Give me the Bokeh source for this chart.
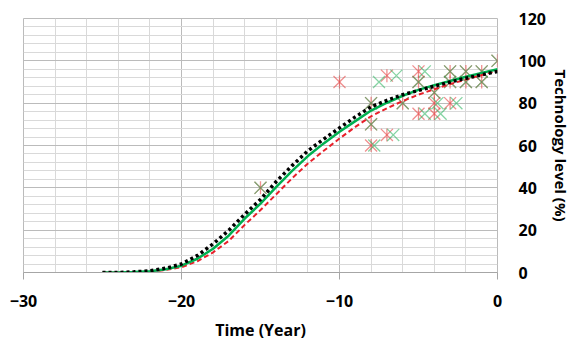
import math
from bokeh.plotting import figure
from bokeh.models import FixedTicker, Range1d, Title
from bokeh.embed import file_html
from bokeh.resources import INLINE

# ---- data ----
years = [-25, -24, -23, -22, -21, -20, -19, -18, -17, -16, -15, -14, -13,
         -12, -11, -10, -9, -8, -7, -6, -5, -4, -3, -2, -1, 0]
black_vals = [0, 0, 0.3, 0.8, 2, 4, 8, 13.5, 20, 27.5, 34.5, 43, 50.5,
              57.5, 63, 68.3, 73.5, 78.3, 81.3, 84, 86, 88, 90, 91.8, 93.4, 95]
green_vals = [0, 0, 0.2, 0.6, 1.5, 3.2, 6.5, 11.2, 17.5, 25.5, 32.5, 40.5, 48,
              55, 61, 66.5, 71.5, 76.5, 80.2, 83.5, 86.3, 88.5, 90.5, 92.5, 94.3, 96]
red_vals = [0, 0, 0.1, 0.4, 1.2, 2.5, 5.3, 9.5, 15, 22.5, 29.5, 37, 44.5,
            51.5, 57.5, 63.3, 68.8, 73.8, 77.6, 81, 84, 86.6, 89, 91.2, 93.3, 95.3]

red_x = [-15, -10, -8, -8, -8, -7, -7, -6, -5, -5, -5, -4, -4, -4,
         -3, -3, -3, -2, -2, -1, -1, 0]
red_y = [40, 90, 80, 70, 60, 93, 65, 80, 95, 90, 75, 85, 80, 75,
         95, 90, 80, 95, 90, 95, 90, 100]
green_x = [-15, -7.5, -8, -8, -7.8, -6.4, -6.6, -6, -4.6, -5, -4.6, -4, -3.8, -3.6,
           -3, -3, -2.6, -2, -2, -1, -1, 0]
green_y = [40, 90, 80, 70, 60, 93, 65, 80, 95, 90, 75, 85, 80, 75,
           95, 90, 80, 95, 90, 95, 90, 100]

x_major = [-30, -20, -10, 0]
x_minor = [-28, -26, -24, -22, -18, -16, -14, -12, -8, -6, -4, -2]
y_major = [0, 20, 40, 60, 80, 100, 120]
y_minor = [4, 8, 12, 16, 24, 28, 32, 36, 44, 48, 52, 56, 64, 68, 72, 76,
           84, 88, 92, 96, 104, 108, 112, 116]

FONT = "Open Sans"

p = figure(frame_width=474, frame_height=254, x_range=Range1d(-30, 0), y_range=Range1d(0, 120),
           output_backend="svg", toolbar_location=None, y_axis_location="right",
           min_border_left=23, min_border_right=74, min_border_top=18,
           min_border_bottom=60)
p.outline_line_color = "#BBBBBB"
p.background_fill_color = "white"
p.border_fill_color = "white"

p.xaxis.ticker = FixedTicker(ticks=x_major, minor_ticks=x_minor)
p.yaxis.ticker = FixedTicker(ticks=y_major, minor_ticks=y_minor)

p.xgrid.grid_line_color = "#BBBBBB"
p.xgrid.minor_grid_line_color = "#D9D9D9"
p.ygrid.grid_line_color = "#BBBBBB"
p.ygrid.minor_grid_line_color = "#D9D9D9"

p.xaxis.axis_line_color = "#A6A6A6"
p.xaxis.major_tick_line_color = "#A6A6A6"
p.xaxis.major_tick_out = 7
p.xaxis.major_tick_in = 0
p.xaxis.minor_tick_line_color = None
p.xaxis.major_label_standoff = 15

p.yaxis.axis_line_color = None
p.yaxis.major_tick_line_color = None
p.yaxis.minor_tick_line_color = None
p.yaxis.major_tick_out = 0
p.yaxis.major_tick_in = 0
p.yaxis.major_label_standoff = 17
p.yaxis.axis_label = "Technology level (%)"
p.yaxis.axis_label_standoff = 2
p.yaxis.axis_label_text_font = FONT
p.yaxis.axis_label_text_font_size = "15px"
p.yaxis.axis_label_text_font_style = "bold"
p.yaxis.axis_label_text_color = "black"

for ax in (p.xaxis, p.yaxis):
    ax.major_label_text_font = FONT
    ax.major_label_text_font_size = "16px"
    ax.major_label_text_font_style = "bold"
    ax.major_label_text_color = "black"

# scatter markers
p.scatter(red_x, red_y, marker="x", size=17, line_color="#E64646", line_alpha=0.6, line_width=1.3)
p.scatter(red_x, red_y, marker="dash", angle=math.pi / 2, size=13, line_color="#E64646",
          line_alpha=0.6, line_width=1.3)
p.scatter(green_x, green_y, marker="x", size=17, line_color="#22B05A", line_alpha=0.55, line_width=1.3)

# curves
p.line(years, red_vals, line_color="#E8202A", line_width=2, line_dash="5 3")
p.line(years, green_vals, line_color="#00B050", line_width=2.5)
p.line(years, black_vals, line_color="black", line_width=3.5, line_dash="3 3")

p.add_layout(Title(text="Time (Year)", align="center", offset=41, standoff=14,
                   text_font=FONT, text_font_size="16px", text_font_style="bold",
                   text_color="black"), "below")

open("out.html", "w").write(file_html(p, INLINE))
